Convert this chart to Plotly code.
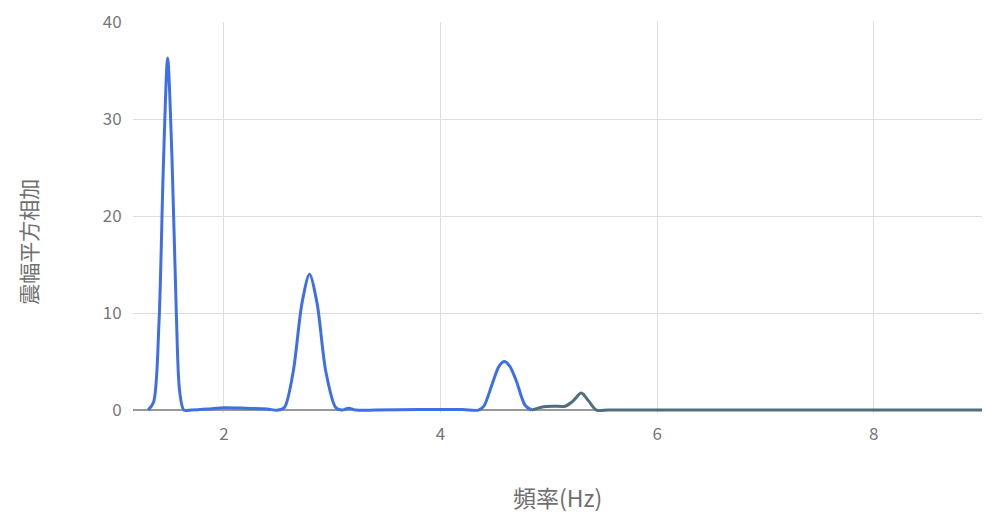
import plotly.graph_objects as go

# Frequency (Hz) and summed squared amplitude
freq = [1.30, 1.35, 1.40, 1.44, 1.48, 1.52, 1.56, 1.59, 1.63, 1.70, 1.85, 2.00,
        2.20, 2.40, 2.50, 2.56, 2.64, 2.72, 2.79, 2.86, 2.94, 3.03, 3.09, 3.15,
        3.22, 3.40, 3.80, 4.20, 4.35, 4.40, 4.48, 4.54, 4.59, 4.64, 4.70, 4.78, 4.84]
amp = [0.0, 0.8, 9.0, 25.0, 36.3, 26.0, 10.0, 2.0, 0.0, 0.0, 0.1, 0.25,
       0.2, 0.1, 0.0, 0.3, 4.0, 11.0, 14.0, 11.0, 4.0, 0.3, 0.0, 0.2,
       0.0, 0.0, 0.05, 0.05, 0.0, 0.4, 2.8, 4.5, 5.0, 4.5, 3.0, 0.5, 0.0]

# Higher-frequency tail
freq_tail = [4.84, 4.95, 5.05, 5.15, 5.22, 5.30, 5.37, 5.44, 5.55, 6.0, 7.0, 8.0, 9.0]
amp_tail = [0.0, 0.35, 0.4, 0.4, 0.9, 1.75, 0.9, 0.0, 0.0, 0.0, 0.0, 0.0, 0.0]

x_ticks = [2, 4, 6, 8]
y_ticks = [0, 10, 20, 30, 40]

font_family = "Noto Sans CJK JP, Noto Sans, sans-serif"
label_color = "#777777"

fig = go.Figure()
fig.add_trace(go.Scatter(
    x=freq, y=amp, mode="lines",
    line=dict(color="#3f6fe6", width=3, shape="spline", smoothing=0.8),
    showlegend=False, hoverinfo="x+y",
))
fig.add_trace(go.Scatter(
    x=freq_tail, y=amp_tail, mode="lines",
    line=dict(color="#4f6f80", width=3, shape="spline", smoothing=0.8),
    showlegend=False, hoverinfo="x+y",
))

fig.update_layout(
    width=987, height=518,
    margin=dict(l=133, r=5, t=22, b=105),
    paper_bgcolor="white", plot_bgcolor="white",
    font=dict(family=font_family, color=label_color, size=16),
    xaxis=dict(
        range=[1.16, 9.0], tickvals=x_ticks, ticktext=[str(v) for v in x_ticks],
        showgrid=True, gridcolor="#dddddd", gridwidth=1,
        zeroline=False, showline=False,
        ticks="outside", ticklen=6, tickcolor="rgba(0,0,0,0)",
        tickfont=dict(size=17, color=label_color),
    ),
    yaxis=dict(
        range=[-0.3, 40], tickvals=y_ticks, ticktext=[str(v) for v in y_ticks],
        showgrid=True, gridcolor="#dddddd", gridwidth=1,
        zeroline=True, zerolinecolor="#999999", zerolinewidth=2,
        showline=False,
        ticks="outside", ticklen=7, tickcolor="rgba(0,0,0,0)",
        tickfont=dict(size=17, color=label_color),
    ),
    annotations=[
        dict(text="頻率(Hz)", xref="paper", yref="paper", x=0.5, y=-0.215,
             xanchor="center", yanchor="middle", showarrow=False,
             font=dict(size=23, color="#6f6f6f")),
        dict(text="震幅平方相加", xref="paper", yref="paper", x=-0.124, y=0.437,
             xanchor="center", yanchor="middle", showarrow=False, textangle=-90,
             font=dict(size=21, color="#6f6f6f")),
    ],
)

fig.write_html("out.html")
